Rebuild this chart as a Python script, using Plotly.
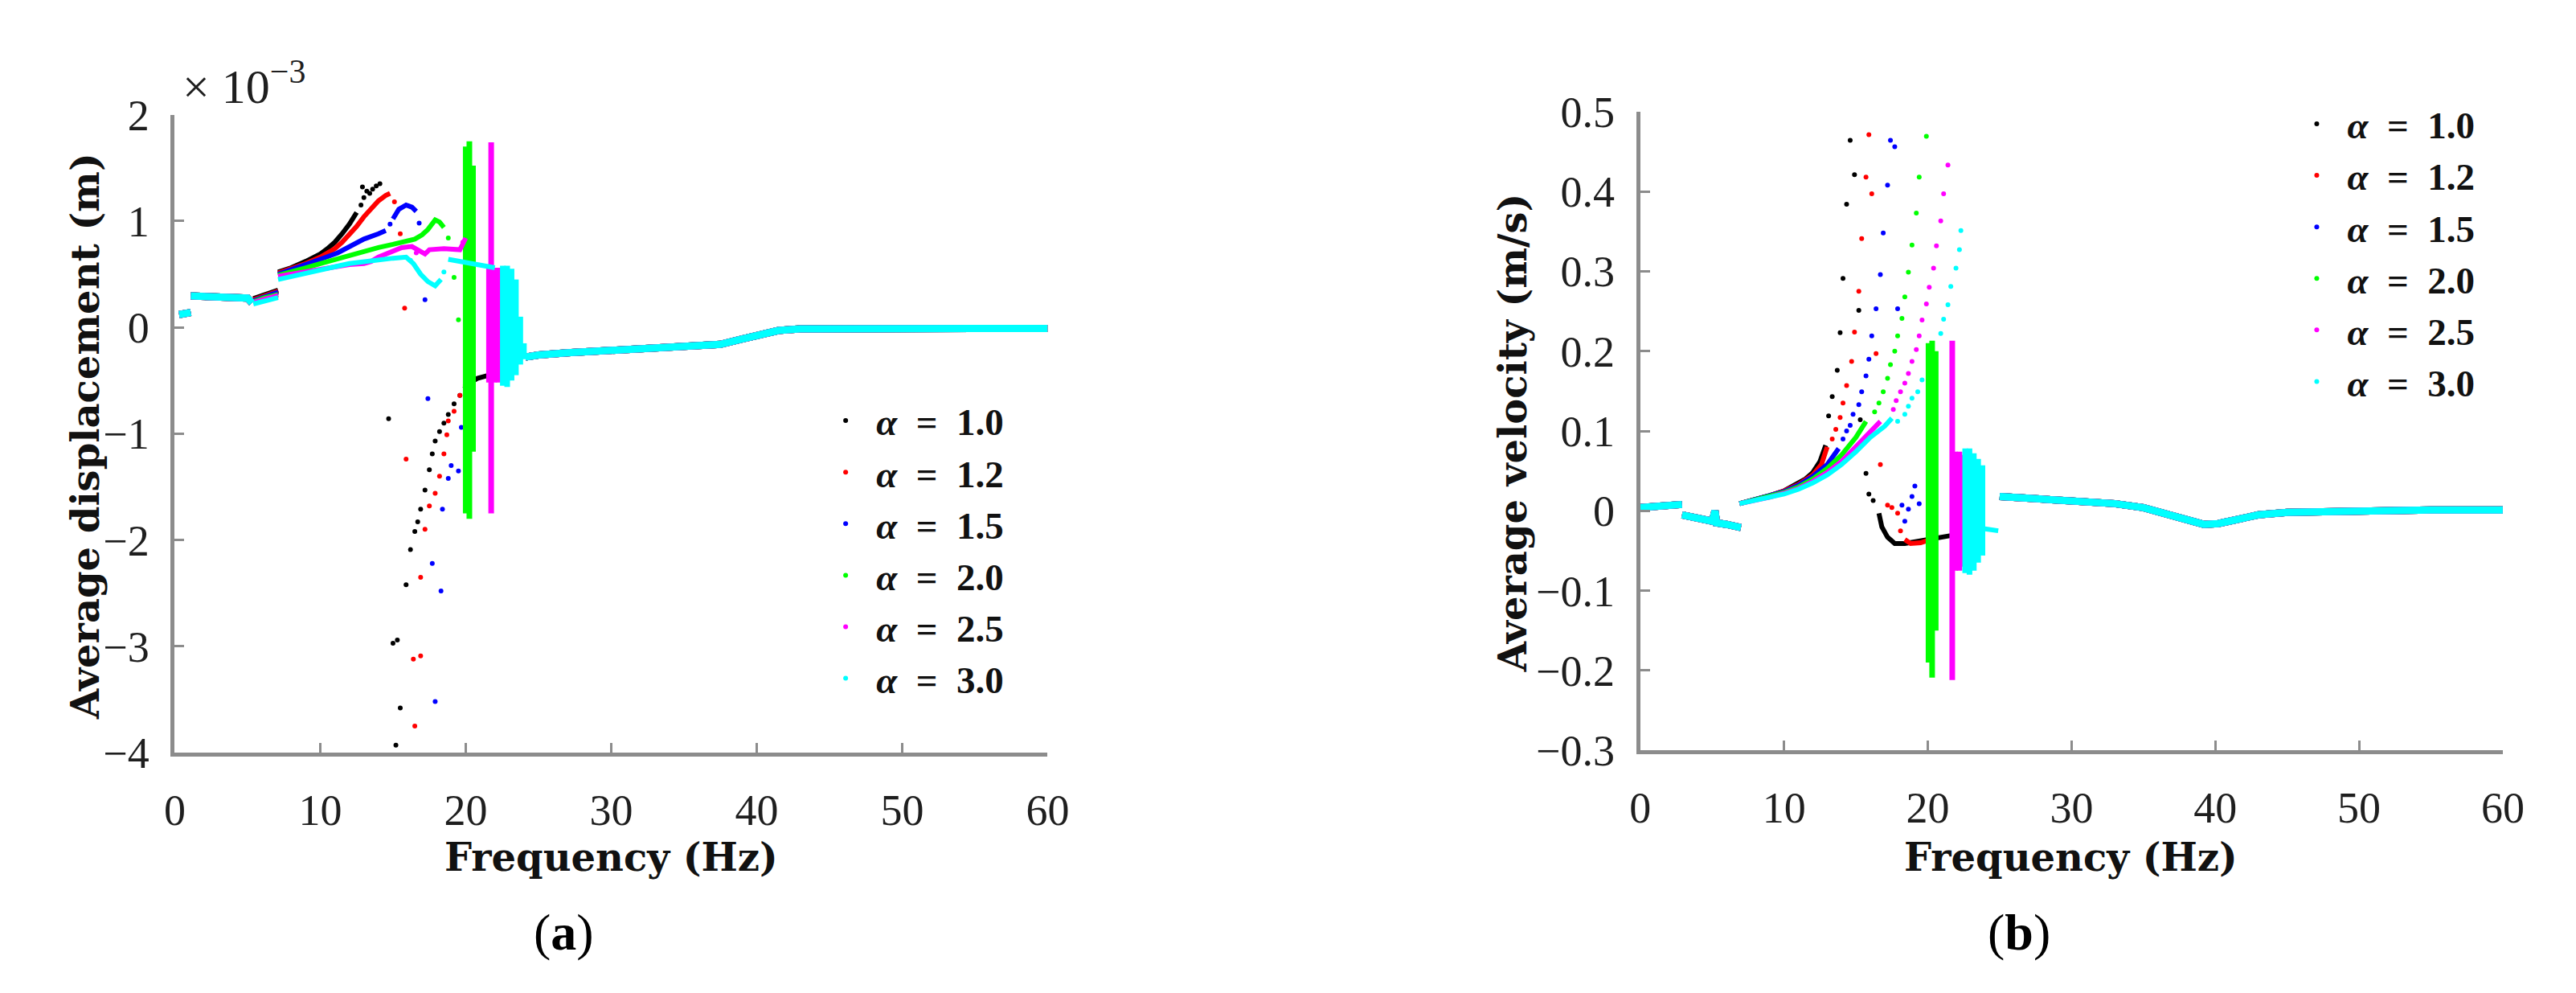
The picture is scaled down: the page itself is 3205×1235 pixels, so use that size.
import plotly.graph_objects as go

# ---- data ---------------------------------------------------------------
ALPHAS = ["1.0", "1.2", "1.5", "2.0", "2.5", "3.0"]
COLORS = ["#000000", "#ff0000", "#0000ff", "#00ff00", "#ff00ff", "#00ffff"]

FREQ_TICKS = [0, 10, 20, 30, 40, 50, 60]
DISP_TICKS = [-4, -3, -2, -1, 0, 1, 2]
VEL_TICKS = [-0.3, -0.2, -0.1, 0, 0.1, 0.2, 0.3, 0.4, 0.5]
VEL_TICK_TEXT = ["\u22120.3", "\u22120.2", "\u22120.1", "0", "0.1", "0.2", "0.3", "0.4", "0.5"]
DISP_TICK_TEXT = ["\u22124", "\u22123", "\u22122", "\u22121", "0", "1", "2"]

# (a) average displacement, units of 1e-3 m, as (Hz, value); None breaks a branch
DISP_LOW = [(0.3, 0.12), (0.7, 0.13), (1.1, 0.14), None,
            (1.1, 0.295), (2.0, 0.29), (3.0, 0.285), (4.0, 0.28), (5.0, 0.275), (5.3, 0.23)]
DISP_HIGH = [(24.1, -0.28), (25, -0.26), (27, -0.24), (30, -0.22), (33, -0.195), (36, -0.175),
             (37.5, -0.16), (39, -0.11), (40.3, -0.065), (41.5, -0.03), (43, -0.015),
             (46, -0.01), (50, -0.01), (55, -0.01), (60, -0.01)]

DISP_LINE_10 = [(5.4, 0.27), (6.2, 0.31), (7.1, 0.35), None,
                (7.1, 0.52), (8, 0.56), (9, 0.62), (10, 0.69), (10.5, 0.74), (11, 0.8),
                (11.5, 0.88), (12, 0.97), (12.5, 1.08), None,
                (19.9, -0.58), (20.3, -0.52), (20.8, -0.48), (21.2, -0.46), (21.6, -0.45)]
DISP_DOTS_10 = [(12.8, 1.15), (13.0, 1.22), (12.9, 1.32), (13.2, 1.28), (13.4, 1.26), (13.6, 1.3),
                (13.85, 1.33), (14.1, 1.35), (14.7, -0.86), (15.0, -2.97), (15.2, -3.93),
                (15.3, -2.94), (15.5, -3.58), (15.9, -2.42), (16.2, -2.09), (16.5, -1.92),
                (16.7, -1.83), (16.9, -1.71), (17.2, -1.53), (17.5, -1.34), (17.7, -1.19),
                (17.9, -1.07), (18.2, -0.98), (18.5, -0.9), (18.8, -0.82), (19.2, -0.72), (19.6, -0.64)]
DISP_BAND_10 = []

DISP_LINE_12 = [(5.4, 0.26), (6.2, 0.3), (7.1, 0.34), None,
                (7.1, 0.51), (8, 0.55), (9, 0.6), (10, 0.66), (11, 0.74), (11.5, 0.8), (12, 0.87),
                (12.5, 0.95), (13, 1.04), (13.5, 1.12), (14, 1.19), (14.5, 1.24), (14.8, 1.26), None,
                (19.9, -0.56), (20.4, -0.5)]
DISP_DOTS_12 = [(15.1, 1.18), (15.5, 0.88), (15.8, 0.18), (15.9, -1.24), (16.4, -3.12), (16.5, -3.75),
                (16.9, -3.09), (16.9, -2.35), (17.2, -1.9), (17.5, -1.68), (17.9, -1.56), (18.2, -1.4),
                (18.5, -1.19), (18.7, -1.01), (18.8, -0.88), (19.2, -0.79), (19.6, -0.64)]
DISP_BAND_12 = []

DISP_LINE_15 = [(5.4, 0.25), (6.2, 0.29), (7.1, 0.33), None,
                (7.1, 0.5), (8, 0.54), (9, 0.59), (10, 0.64), (11.2, 0.7), (12, 0.76), (13, 0.83),
                (14, 0.88), (14.5, 0.91), None,
                (15.0, 1.02), (15.4, 1.11), (15.9, 1.15), (16.3, 1.13), (16.6, 1.09)]
DISP_DOTS_15 = [(14.8, 0.97), (16.8, 0.98), (17.2, 0.26), (17.4, -0.67), (17.7, -2.22), (17.9, -3.52),
                (18.3, -2.48), (18.4, -1.71), (18.8, -1.42), (19.0, -1.3), (19.5, -1.35), (19.7, -0.94)]
DISP_BAND_15 = []

DISP_LINE_20 = [(5.4, 0.24), (6.2, 0.28), (7.1, 0.31), None,
                (7.1, 0.49), (8, 0.52), (9, 0.56), (10, 0.6), (11, 0.64), (12, 0.68), (13, 0.72),
                (14, 0.75), (15, 0.78), (16, 0.81), (16.5, 0.83), (17, 0.87), (17.4, 0.92),
                (17.9, 1.01), (18.2, 0.99), (18.5, 0.94)]
DISP_DOTS_20 = [(18.8, 0.84), (19.2, 0.47), (19.5, 0.07)]
DISP_BAND_20 = [(20.0, -1.75, 1.7), (20.25, -1.8, 1.75), (20.5, -1.17, 1.52)]  # (Hz, low, high)

DISP_LINE_25 = [(5.4, 0.235), (6.2, 0.27), (7.1, 0.3), None,
                (7.1, 0.48), (8, 0.5), (9, 0.53), (10, 0.55), (11, 0.57), (12, 0.59), (13, 0.6),
                (13.5, 0.62), (14, 0.66), (15, 0.71), (15.6, 0.75), (16.3, 0.76), (16.8, 0.72),
                (17.2, 0.69), (17.5, 0.73), (18.5, 0.74), (19.6, 0.73), (20.0, 0.84)]
DISP_DOTS_25 = [(16.6, 0.7), (19.8, 0.8)]
DISP_BAND_25 = [(21.75, -1.75, 1.74), (21.6, -0.52, 0.56), (21.95, -0.52, 0.56), (22.25, -0.52, 0.56)]

DISP_LINE_30 = [(5.4, 0.22), (6.2, 0.25), (7.1, 0.28), None,
                (7.1, 0.45), (8, 0.48), (9, 0.51), (10, 0.54), (11, 0.57), (12, 0.6), (13, 0.62),
                (14, 0.64), (15, 0.65), (15.9, 0.66), (16.4, 0.6), (16.9, 0.5), (17.4, 0.43),
                (17.9, 0.39), (18.3, 0.45), None,
                (18.8, 0.64), (20, 0.61), (21, 0.58), (22, 0.56)]
DISP_DOTS_30 = [(16.2, 0.63), (18.5, 0.52)]
DISP_BAND_30 = [(22.55, -0.55, 0.58), (22.85, -0.56, 0.58), (23.15, -0.5, 0.55),
                (23.45, -0.45, 0.45), (23.75, -0.35, 0.1), (24.0, -0.3, -0.15)]

# (b) average velocity, m/s
VEL_LOW = [(0.0, 0.004), (1.0, 0.006), (2.0, 0.007), (2.9, 0.008), None,
           (2.9, -0.005), (4.0, -0.009), (5.0, -0.013), (5.2, 0.0), (5.3, -0.015),
           (6.0, -0.017), (7.0, -0.021)]
VEL_HIGH = [(25.0, 0.018), (28, 0.015), (30, 0.013), (33, 0.009), (35, 0.004), (36.5, -0.004),
            (38, -0.012), (39.2, -0.017), (40.2, -0.016), (41.5, -0.01), (43, -0.005),
            (45, -0.002), (50, 0.0), (55, 0.001), (60, 0.001)]

VEL_LINE_10 = [(6.9, 0.009), (8, 0.014), (9, 0.019), (10, 0.025), (11, 0.034), (11.5, 0.04),
               (12, 0.048), (12.5, 0.062), (12.9, 0.082), None,
               (16.6, -0.003), (16.8, -0.02), (17.2, -0.033), (17.7, -0.041), (18.4, -0.041),
               (19.3, -0.038), (19.9, -0.036), (21.6, -0.031)]
VEL_DOTS_10 = [(13.1, 0.119), (13.35, 0.143), (13.7, 0.176), (13.9, 0.223), (14.1, 0.291),
               (14.35, 0.384), (14.6, 0.464), (14.9, 0.421), (15.2, 0.251), (15.3, 0.114),
               (15.7, 0.047), (15.9, 0.021), (16.2, 0.013)]
VEL_BAND_10 = []

VEL_LINE_12 = [(6.9, 0.009), (8, 0.014), (9, 0.019), (10, 0.025), (11, 0.033), (12, 0.045),
               (12.6, 0.058), (13.0, 0.08), None,
               (18.4, -0.036), (18.8, -0.041), (19.5, -0.04), (20.0, -0.037)]
VEL_DOTS_12 = [(13.35, 0.09), (13.6, 0.102), (13.9, 0.117), (14.1, 0.135), (14.35, 0.157),
               (14.7, 0.187), (14.9, 0.224), (15.2, 0.275), (15.4, 0.341), (15.7, 0.418),
               (15.9, 0.471), (16.1, 0.397), (16.4, 0.197), (16.7, 0.058), (17.2, 0.007),
               (17.5, 0.004), (17.9, -0.003), (18.1, -0.025)]
VEL_BAND_12 = []

VEL_LINE_15 = [(6.9, 0.009), (8, 0.014), (9, 0.019), (10, 0.024), (11, 0.032), (12, 0.043),
               (13, 0.058), (13.8, 0.078)]
VEL_DOTS_15 = [(14.1, 0.09), (14.35, 0.1), (14.6, 0.107), (14.8, 0.121), (15.2, 0.133), (15.4, 0.149),
               (15.7, 0.169), (15.9, 0.19), (16.1, 0.219), (16.4, 0.253), (16.7, 0.296),
               (16.9, 0.348), (17.2, 0.408), (17.4, 0.464), (17.7, 0.456), (17.9, 0.253),
               (18.2, 0.007), (18.4, -0.013), (18.65, 0.002), (18.9, 0.018), (19.1, 0.031), (19.4, 0.009)]
VEL_BAND_15 = []

VEL_LINE_20 = [(6.9, 0.009), (8, 0.014), (9, 0.018), (10, 0.023), (11, 0.03), (12, 0.04),
               (13, 0.053), (14, 0.07), (15, 0.092), (15.7, 0.112)]
VEL_DOTS_20 = [(16.3, 0.124), (16.6, 0.135), (16.9, 0.149), (17.2, 0.166), (17.4, 0.183), (17.7, 0.2),
               (17.9, 0.219), (18.2, 0.241), (18.4, 0.268), (18.65, 0.299), (18.9, 0.333),
               (19.2, 0.373), (19.4, 0.418), (19.9, 0.469)]
VEL_BAND_20 = [(20.05, -0.19, 0.21), (20.3, -0.209, 0.213), (20.55, -0.15, 0.2)]

VEL_LINE_25 = [(6.9, 0.009), (8, 0.013), (9, 0.017), (10, 0.022), (11, 0.028), (12, 0.037),
               (13, 0.048), (14, 0.062), (15, 0.08), (16, 0.098), (16.7, 0.112)]
VEL_DOTS_25 = [(17.6, 0.127), (17.8, 0.138), (18.1, 0.149), (18.4, 0.16), (18.65, 0.172),
               (18.9, 0.187), (19.2, 0.202), (19.4, 0.219), (19.6, 0.239), (19.9, 0.259),
               (20.1, 0.28), (20.4, 0.304), (20.6, 0.332), (20.9, 0.363), (21.1, 0.397), (21.4, 0.433)]
VEL_BAND_25 = [(21.7, -0.212, 0.213), (21.9, -0.075, 0.074), (22.2, -0.075, 0.074), (22.45, -0.07, 0.07)]

VEL_LINE_30 = [(6.9, 0.009), (8, 0.013), (9, 0.017), (10, 0.021), (11, 0.027), (12, 0.035),
               (13, 0.045), (14, 0.058), (15, 0.074), (16, 0.092), (17, 0.106), (17.5, 0.116), None,
               (23.8, -0.022), (24.9, -0.025)]
VEL_DOTS_30 = [(17.9, 0.112), (18.4, 0.121), (18.65, 0.131), (18.9, 0.141), (19.3, 0.149),
               (19.6, 0.164), (20.9, 0.222), (21.1, 0.24), (21.4, 0.258), (21.6, 0.281),
               (21.96, 0.304), (22.2, 0.327), (22.3, 0.351)]
VEL_BAND_30 = [(22.6, -0.078, 0.078), (22.9, -0.08, 0.078), (23.2, -0.075, 0.072),
               (23.5, -0.065, 0.065), (23.8, -0.056, 0.057)]

DISP_LINES = [DISP_LINE_10, DISP_LINE_12, DISP_LINE_15, DISP_LINE_20, DISP_LINE_25, DISP_LINE_30]
DISP_DOTS = [DISP_DOTS_10, DISP_DOTS_12, DISP_DOTS_15, DISP_DOTS_20, DISP_DOTS_25, DISP_DOTS_30]
DISP_BANDS = [DISP_BAND_10, DISP_BAND_12, DISP_BAND_15, DISP_BAND_20, DISP_BAND_25, DISP_BAND_30]
VEL_LINES = [VEL_LINE_10, VEL_LINE_12, VEL_LINE_15, VEL_LINE_20, VEL_LINE_25, VEL_LINE_30]
VEL_DOTS = [VEL_DOTS_10, VEL_DOTS_12, VEL_DOTS_15, VEL_DOTS_20, VEL_DOTS_25, VEL_DOTS_30]
VEL_BANDS = [VEL_BAND_10, VEL_BAND_12, VEL_BAND_15, VEL_BAND_20, VEL_BAND_25, VEL_BAND_30]

# ---- page geometry (pixels of the 3205 x 1235 page) ------------------------
W, H = 3205, 1235
SERIF = "Liberation Serif"
TITLE_FONT = dict(family="DejaVu Serif", size=48, color="#111111")


def px_x(p):
    return p / W


def px_y(p):
    return 1 - p / H


def unzip(points):
    xs, ys = [], []
    for p in points:
        xs.append(None if p is None else p[0])
        ys.append(None if p is None else p[1])
    return xs, ys


def band_segments(band):
    xs, ys = [], []
    for f, lo, hi in band:
        xs += [f, f, None]
        ys += [lo, hi, None]
    return xs, ys


def add_panel(fig, low, high, lines, dots, bands, xa, ya, legend):
    for i, alpha in enumerate(ALPHAS):
        color = COLORS[i]
        # branches shared by every alpha (they overlap, the last colour wins)
        cx, cy = unzip(low + [None] + high)
        fig.add_trace(go.Scatter(
            x=cx, y=cy, mode="lines", line=dict(color=color, width=9),
            showlegend=False, hoverinfo="skip", xaxis=xa, yaxis=ya
        ))
        lx, ly = unzip(lines[i])
        fig.add_trace(go.Scatter(
            x=lx, y=ly, mode="lines", line=dict(color=color, width=6),
            showlegend=False, hoverinfo="skip", xaxis=xa, yaxis=ya
        ))
        if bands[i]:
            bx, by = band_segments(bands[i])
            fig.add_trace(go.Scatter(
                x=bx, y=by, mode="lines", line=dict(color=color, width=7),
                showlegend=False, hoverinfo="skip", xaxis=xa, yaxis=ya
            ))
        dx, dy = unzip(dots[i])
        fig.add_trace(go.Scatter(
            x=dx, y=dy, mode="markers", marker=dict(color=color, size=6),
            name=f"<b><i>\u03b1</i>\u2002=\u2002{alpha}</b>",
            legend=legend, xaxis=xa, yaxis=ya
        ))


fig = go.Figure()
add_panel(fig, DISP_LOW, DISP_HIGH, DISP_LINES, DISP_DOTS, DISP_BANDS, "x", "y", "legend")
add_panel(fig, VEL_LOW, VEL_HIGH, VEL_LINES, VEL_DOTS, VEL_BANDS, "x2", "y2", "legend2")

axis_style = dict(
    showline=True, linewidth=5, linecolor="#8c8c8c", mirror=False,
    ticks="inside", ticklen=12, tickwidth=3, tickcolor="#8c8c8c",
    showgrid=False, zeroline=False,
    tickfont=dict(family=SERIF, size=54, color="#1e1e1e")
)
legend_style = dict(
    xanchor="left", yanchor="top", bgcolor="rgba(0,0,0,0)", itemwidth=66,
    font=dict(family=SERIF, size=47, color="#111111"), tracegroupgap=0
)

fig.update_layout(
    width=W, height=H,
    paper_bgcolor="white", plot_bgcolor="white",
    margin=dict(l=0, r=0, t=0, b=0),
    xaxis=dict(domain=[px_x(198), px_x(1298)], range=[0, 60], tickvals=FREQ_TICKS,
               ticklabelstandoff=20, anchor="y", **axis_style),
    yaxis=dict(domain=[px_y(945), px_y(111)], range=[-4, 2], tickvals=DISP_TICKS,
               ticktext=DISP_TICK_TEXT, ticklabelstandoff=16, anchor="x", **axis_style),
    xaxis2=dict(domain=[px_x(2045), px_x(3132)], range=[0, 60], tickvals=FREQ_TICKS,
                ticklabelstandoff=20, anchor="y2", **axis_style),
    yaxis2=dict(domain=[px_y(942), px_y(107)], range=[-0.3, 0.5], tickvals=VEL_TICKS,
                ticktext=VEL_TICK_TEXT, ticklabelstandoff=16, anchor="x2", **axis_style),
    legend=dict(x=px_x(1005), y=px_y(472), **legend_style),
    legend2=dict(x=px_x(2859), y=px_y(84), **legend_style),
    showlegend=True,
)

annotations = [
    dict(text="<b>Average displacement (m)</b>", x=px_x(85), y=px_y(531), textangle=-90,
         font=TITLE_FONT),
    dict(text="<b>Average velocity (m/s)</b>", x=px_x(1885), y=px_y(527), textangle=-90,
         font=TITLE_FONT),
    dict(text="<b>Frequency (Hz)</b>", x=px_x(748), y=px_y(1082), font=TITLE_FONT),
    dict(text="<b>Frequency (Hz)</b>", x=px_x(2588), y=px_y(1082), font=TITLE_FONT),
    dict(text="(<b>a</b>)", x=px_x(688), y=px_y(1180),
         font=dict(family=SERIF, size=64, color="#000000")),
    dict(text="(<b>b</b>)", x=px_x(2522), y=px_y(1180),
         font=dict(family=SERIF, size=64, color="#000000")),
    dict(text="\u00d7 10<sup>\u22123</sup>", x=px_x(206), y=px_y(70), xanchor="left",
         font=dict(family=SERIF, size=60, color="#1e1e1e")),
]
for a in annotations:
    a.setdefault("xanchor", "center")
    a.setdefault("yanchor", "middle")
    fig.add_annotation(xref="paper", yref="paper", showarrow=False, **a)

fig.write_html("out.html")
